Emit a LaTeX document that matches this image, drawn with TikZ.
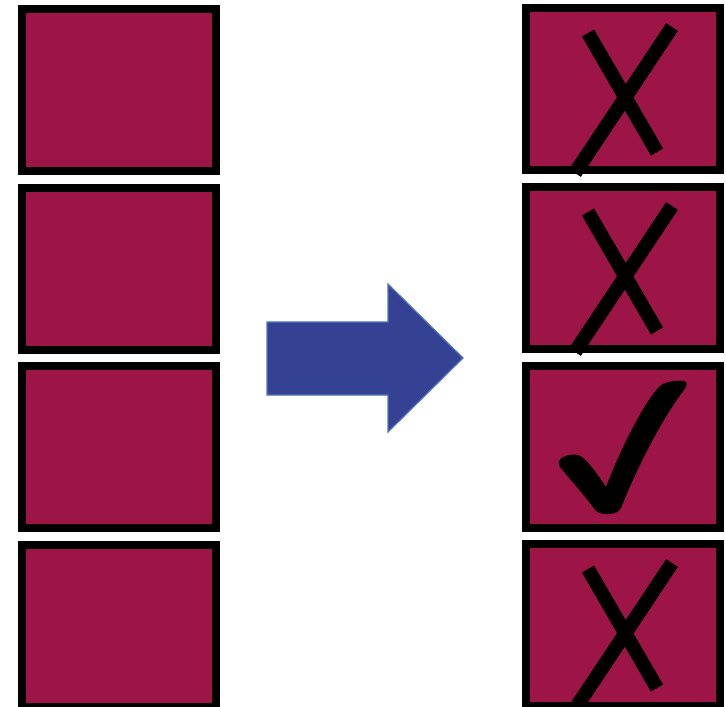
\documentclass[tikz,border=0pt]{standalone}
\begin{document}
\begin{tikzpicture}[x=1pt,y=-1pt,
  card/.style={draw=black, line width=8pt, fill=cardred, minimum width=194pt, minimum height=162pt, inner sep=0pt},
  cross/.style={line width=14pt, draw=black},
  tick/.style={fill=black}]
\definecolor{cardred}{HTML}{9D1446}
\definecolor{arrowfill}{HTML}{354293}
\definecolor{arrowedge}{HTML}{4D74BE}
\useasboundingbox (0,0) rectangle (726,707);
\clip (0,0) rectangle (726,707);
% left column
\node[card] (l1) at (119,90) {};
\node[card] (l2) at (119,269) {};
\node[card] (l3) at (119,447) {};
\node[card] (l4) at (119,626) {};
% right column
\node[card] (r1) at (623,89) {};
\node[card] (r2) at (623,268) {};
\node[card] (r3) at (623,447) {};
\node[card] (r4) at (623,625) {};
% arrow
\draw[fill=arrowfill, draw=arrowedge, line width=1.2pt]
  (267,322) -- (388,322) -- (388,284) -- (463,358) -- (388,432) -- (388,395) -- (267,395) -- cycle;
% crosses
\foreach \b in {r1,r2,r4}{
  \draw[cross] ([shift={(-35,-56)}]\b.center) -- ([shift={(34,63)}]\b.center);
  \draw[cross] ([shift={(49,-62)}]\b.center) -- ([shift={(-48,84)}]\b.center);
}
% check mark
\fill[tick] (560,467) .. controls (555,459) and (566,453) .. (578,455)
  .. controls (586,457) and (600,478) .. (606,487)
  .. controls (620,450) and (645,400) .. (660,386)
  .. controls (666,381) and (678,380) .. (684,381)
  .. controls (688,382) and (687,386) .. (684,390)
  .. controls (661,420) and (636,470) .. (621,508)
  .. controls (618,515) and (602,516) .. (596,511)
  .. controls (584,495) and (569,478) .. cycle;
\end{tikzpicture}
\end{document}
